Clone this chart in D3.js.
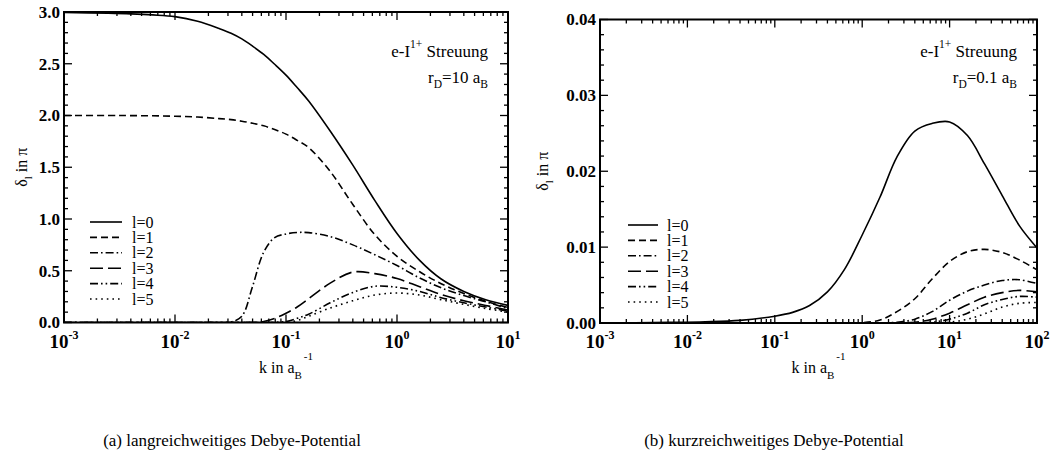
<!DOCTYPE html>
<html><head><meta charset="utf-8">
<script src="https://cdn.jsdelivr.net/npm/d3@7/dist/d3.min.js"></script>
<style>
body{margin:0;background:#fff;}
svg{display:block;}
text{font-family:"Liberation Serif","Times New Roman",serif;fill:#000;}
</style></head>
<body>
<svg id="chart" width="1051" height="454"></svg>
<script>
// ---------- data ----------
const legendLabels = ["l=0","l=1","l=2","l=3","l=4","l=5"];

// left panel: e-I1+ scattering, r_D = 10 a_B  (k in 1/a_B, delta_l in units of pi)
const kLeft = [0.001,0.0025,0.004,0.0063,0.01,0.016,0.025,0.032,0.04,0.05,0.063,0.079,0.1,0.126,0.16,0.25,0.4,0.63,1,1.6,2.5,4,6.3,10];
const left_l0 = [2.995,2.988,2.982,2.972,2.955,2.91,2.84,2.795,2.74,2.67,2.59,2.495,2.39,2.27,2.14,1.85,1.52,1.18,0.86,0.60,0.42,0.30,0.22,0.165];
const left_l1 = [2.0,2.0,1.999,1.997,1.993,1.985,1.97,1.96,1.945,1.925,1.90,1.865,1.82,1.76,1.69,1.46,1.14,0.85,0.64,0.49,0.375,0.28,0.205,0.145];
const left_l2 = [0,0,0,0,0,0,0,0.005,0.06,0.35,0.68,0.82,0.855,0.87,0.868,0.83,0.75,0.655,0.55,0.43,0.335,0.26,0.20,0.135];
const left_l3 = [0,0,0,0,0,0,0,0,0,0,0.01,0.04,0.09,0.15,0.23,0.38,0.487,0.472,0.425,0.345,0.27,0.21,0.165,0.12];
const left_l4 = [0,0,0,0,0,0,0,0,0,0,0,0,0.01,0.04,0.08,0.19,0.29,0.35,0.34,0.30,0.24,0.19,0.15,0.11];
const left_l5 = [0,0,0,0,0,0,0,0,0,0,0,0,0,0.02,0.06,0.14,0.21,0.265,0.285,0.265,0.22,0.175,0.135,0.10];

// right panel: r_D = 0.1 a_B
const kRight = [0.001,0.0025,0.0063,0.016,0.04,0.1,0.16,0.25,0.4,0.63,1,1.6,2.5,4,6.3,10,16,25,40,63,100];
const right_l0 = [0.00002,0.00004,0.00008,0.00016,0.00035,0.0009,0.0014,0.0023,0.0041,0.0071,0.0116,0.0166,0.0219,0.0253,0.0263,0.0265,0.0247,0.0210,0.0168,0.0128,0.0099];
const right_l1 = [0,0,0,0,0,0,0,0,0,0.00001,0.00005,0.0004,0.0015,0.0032,0.0058,0.0081,0.0094,0.0097,0.0093,0.0083,0.0070];
const right_l2 = [0,0,0,0,0,0,0,0,0,0,0,0,0.0001,0.0005,0.0015,0.0030,0.0042,0.0050,0.0056,0.0057,0.0052];
const right_l3 = [0,0,0,0,0,0,0,0,0,0,0,0,0,0.0001,0.0005,0.0013,0.0024,0.0034,0.0040,0.0043,0.0041];
const right_l4 = [0,0,0,0,0,0,0,0,0,0,0,0,0,0,0.0001,0.0005,0.0013,0.0024,0.0031,0.0035,0.0034];
const right_l5 = [0,0,0,0,0,0,0,0,0,0,0,0,0,0,0,0.0001,0.0005,0.0012,0.0021,0.0026,0.0027];

const xTicksLeft = [1e-3,1e-2,1e-1,1e0,1e1];
const xTickExpLeft = ["-3","-2","-1","0","1"];
const xTicksRight = [1e-3,1e-2,1e-1,1e0,1e1,1e2];
const xTickExpRight = ["-3","-2","-1","0","1","2"];
const yTicksLeft = [0,0.5,1.0,1.5,2.0,2.5,3.0];
const yTicksRight = [0,0.01,0.02,0.03,0.04];
const captions = ["(a) langreichweitiges Debye-Potential","(b) kurzreichweitiges Debye-Potential"];
const annotRD = ["10","0.1"];

// ---------- drawing ----------
const dashes = [null,"7,4","8,3,1.6,3","13,5","8,3,1.6,3,1.6,3","1.6,4"];

const panels = [
  {k:kLeft, series:[left_l0,left_l1,left_l2,left_l3,left_l4,left_l5], xd:[1e-3,1e1], yd:[0,3],
   yTicks:yTicksLeft, yMinor:0.1, yFmt:d=>d.toFixed(1), xTicks:xTicksLeft, xExp:xTickExpLeft,
   x0:64, x1:508, y0:12, y1:322.5, leg:{x0:90,x1:122,tx:132,y:222}, ytitleX:27,
   caption:captions[0], capX:232, rd:annotRD[0]},
  {k:kRight, series:[right_l0,right_l1,right_l2,right_l3,right_l4,right_l5], xd:[1e-3,1e2], yd:[0,0.04],
   yTicks:yTicksRight, yMinor:0.002, yFmt:d=>d.toFixed(2), xTicks:xTicksRight, xExp:xTickExpRight,
   x0:600, x1:1037, y0:19.5, y1:323, leg:{x0:628,x1:658,tx:667,y:225}, ytitleX:548,
   caption:captions[1], capX:774, rd:annotRD[1]}
];

const svg = d3.select("#chart");

panels.forEach((p,pi) => {
  const g = svg.append("g");
  const x = d3.scaleLog().domain(p.xd).range([p.x0,p.x1]);
  const y = d3.scaleLinear().domain(p.yd).range([p.y1,p.y0]);

  // clip so tiny spline undershoots stay inside the frame
  const cid = "clip"+pi;
  svg.append("clipPath").attr("id",cid).append("rect")
    .attr("x",p.x0).attr("y",p.y0).attr("width",p.x1-p.x0).attr("height",p.y1-p.y0);

  // curves
  const line = d3.line().x(d=>x(d[0])).y(d=>y(Math.max(0,d[1]))).curve(d3.curveCatmullRom.alpha(0.5));
  p.series.forEach((s,i)=>{
    const pts = p.k.map((kv,j)=>[kv,s[j]]);
    g.append("path").attr("d",line(pts)).attr("fill","none").attr("stroke","#000")
      .attr("clip-path",`url(#${cid})`)
      .attr("stroke-width",1.6).attr("stroke-dasharray",dashes[i]);
  });

  // x ticks (log, major + minor) bottom & top, inward
  const dec0 = Math.round(Math.log10(p.xd[0])), dec1 = Math.round(Math.log10(p.xd[1]));
  const xt = [];
  for(let e=dec0;e<=dec1;e++){
    xt.push({v:Math.pow(10,e),maj:true});
    if(e<dec1) for(let m=2;m<=9;m++) xt.push({v:m*Math.pow(10,e),maj:false});
  }
  xt.forEach(t=>{
    const L = t.maj?8:4, xx=x(t.v);
    g.append("line").attr("x1",xx).attr("x2",xx).attr("y1",p.y1).attr("y2",p.y1-L).attr("stroke","#000").attr("stroke-width",1.3);
    g.append("line").attr("x1",xx).attr("x2",xx).attr("y1",p.y0).attr("y2",p.y0+L).attr("stroke","#000").attr("stroke-width",1.3);
  });
  // y ticks
  const nMinor = Math.round((p.yd[1]-p.yd[0])/p.yMinor);
  for(let i=0;i<=nMinor;i++){
    const v = p.yd[0]+i*p.yMinor;
    const maj = p.yTicks.some(t=>Math.abs(t-v)<p.yMinor/10);
    const L = maj?8:4, yy=y(v);
    g.append("line").attr("x1",p.x0).attr("x2",p.x0+L).attr("y1",yy).attr("y2",yy).attr("stroke","#000").attr("stroke-width",1.3);
    g.append("line").attr("x1",p.x1).attr("x2",p.x1-L).attr("y1",yy).attr("y2",yy).attr("stroke","#000").attr("stroke-width",1.3);
  }
  // frame
  g.append("rect").attr("x",p.x0).attr("y",p.y0).attr("width",p.x1-p.x0).attr("height",p.y1-p.y0)
    .attr("fill","none").attr("stroke","#000").attr("stroke-width",2);

  // y tick labels
  p.yTicks.forEach(t=>{
    g.append("text").attr("x",p.x0-4).attr("y",y(t)).attr("dy","0.35em").attr("text-anchor","end")
      .attr("font-size",17).attr("font-weight","bold").text(p.yFmt(t));
  });
  // x tick labels
  p.xTicks.forEach((t,i)=>{
    const tx = g.append("text").attr("x",x(t)).attr("y",p.y1+25).attr("text-anchor","middle")
      .attr("font-size",19).attr("font-weight","bold");
    tx.append("tspan").text("10");
    tx.append("tspan").attr("dy",-9).attr("font-size",12).text(p.xExp[i]);
  });

  // x title
  const cx = (p.x0+p.x1)/2;
  const xt2 = g.append("text").attr("x",cx).attr("y",p.y1+50).attr("text-anchor","middle").attr("font-size",16);
  xt2.append("tspan").text("k in a");
  xt2.append("tspan").attr("dy",6).attr("font-size",11).text("B");
  xt2.append("tspan").attr("dy",-19).attr("dx",2).attr("font-size",11).text("-1");

  // y title
  const cy = (p.y0+p.y1)/2;
  const yt = g.append("text").attr("transform",`translate(${p.ytitleX},${cy}) rotate(-90)`)
    .attr("text-anchor","middle").attr("font-size",16);
  yt.append("tspan").text("\u03b4");
  yt.append("tspan").attr("dy",5).attr("font-size",11).text("l");
  yt.append("tspan").attr("dy",-5).text(" in \u03c0");

  // annotation
  const ax = p.x1-20;
  const a1 = g.append("text").attr("x",ax).attr("y",57).attr("text-anchor","end").attr("font-size",17);
  a1.append("tspan").text("e-I");
  a1.append("tspan").attr("dy",-9).attr("font-size",11.5).text("1+");
  a1.append("tspan").attr("dy",9).text(" Streuung");
  const a2 = g.append("text").attr("x",ax).attr("y",83).attr("text-anchor","end").attr("font-size",17);
  a2.append("tspan").text("r");
  a2.append("tspan").attr("dy",5).attr("font-size",11.5).text("D");
  a2.append("tspan").attr("dy",-5).text("="+p.rd+" a");
  a2.append("tspan").attr("dy",5).attr("font-size",11.5).text("B");

  // legend
  legendLabels.forEach((lab,i)=>{
    const yy = p.leg.y + i*15.4;
    g.append("line").attr("x1",p.leg.x0).attr("x2",p.leg.x1).attr("y1",yy).attr("y2",yy)
      .attr("stroke","#000").attr("stroke-width",1.6).attr("stroke-dasharray",dashes[i]);
    g.append("text").attr("x",p.leg.tx).attr("y",yy).attr("dy","0.35em").attr("font-size",16).text(lab);
  });

  // caption
  g.append("text").attr("x",p.capX).attr("y",446).attr("text-anchor","middle").attr("font-size",17).text(p.caption);
});
</script>
</body></html>
